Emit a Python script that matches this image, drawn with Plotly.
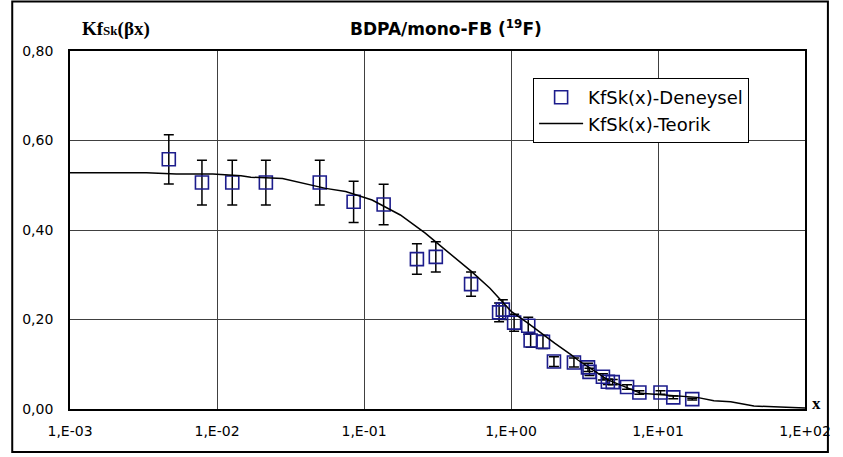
import plotly.graph_objects as go

exp_x = [0.0047, 0.0079, 0.0127, 0.0215, 0.050, 0.085, 0.136, 0.229, 0.308, 0.535,
         0.83, 0.88, 1.05, 1.31, 1.36, 1.65, 1.96, 2.68, 3.34, 3.42, 4.22, 4.56, 4.92,
         6.16, 7.47, 10.4, 12.7, 17.1]
exp_y = [0.558, 0.506, 0.506, 0.506, 0.506, 0.463, 0.457, 0.335, 0.340, 0.279,
         0.216, 0.222, 0.193, 0.186, 0.153, 0.150, 0.106, 0.104, 0.093, 0.083, 0.072,
         0.061, 0.060, 0.049, 0.037, 0.037, 0.026, 0.022]
exp_err = [0.055, 0.050, 0.050, 0.050, 0.050, 0.046, 0.045, 0.034, 0.034, 0.027,
           0.021, 0.022, 0.019, 0.019, 0.015, 0.015, 0.011, 0.010, 0.009, 0.008, 0.007,
           0.006, 0.006, 0.005, 0.004, 0.004, 0.003, 0.002]

# Theoretical curve
th_x = [0.001, 0.00164, 0.00331, 0.00528, 0.00936, 0.01456, 0.0170, 0.0279, 0.0548,
        0.075, 0.1135, 0.1767, 0.261, 0.3475, 0.540, 0.719, 1.008, 1.31, 1.98, 2.57,
        2.85, 4.56, 7.66, 18.4, 24.0, 31.2, 44.9, 61.4, 100]
th_y = [0.528, 0.528, 0.528, 0.525, 0.525, 0.521, 0.518, 0.515, 0.493, 0.486, 0.467,
        0.4335, 0.393, 0.359, 0.307, 0.270, 0.2175, 0.1915, 0.147, 0.121, 0.1095, 0.065,
        0.035, 0.026, 0.0186, 0.0164, 0.0067, 0.005, 0.002]

x_tickvals = [0.001, 0.01, 0.1, 1, 10, 100]
x_ticktext = ["1,E-03", "1,E-02", "1,E-01", "1,E+00", "1,E+01", "1,E+02"]
y_tickvals = [0.0, 0.2, 0.4, 0.6, 0.8]

FONT = "DejaVu Sans"

fig = go.Figure()
fig.add_trace(go.Scatter(
    x=exp_x, y=exp_y, mode="markers", name="KfSk(x)-Deneysel",
    legendgroup="a",
    marker=dict(symbol="square-open", size=13, color="#1c1c8c", line=dict(width=1.6, color="#1c1c8c")),
    error_y=dict(type="data", array=exp_err, visible=True, color="black", thickness=1.5, width=5),
))
fig.add_trace(go.Scatter(
    x=th_x, y=th_y, mode="lines", name="KfSk(x)-Teorik",
    legendgroup="b",
    line=dict(color="black", width=1.5),
))

L, T, W, H = 70, 51, 738, 358

def px(xp):
    return (xp - L) / W

def py(yp):
    return (T + H - yp) / H

fig.update_layout(
    width=843, height=457,
    margin=dict(l=L, r=843 - L - W, t=T, b=457 - T - H),
    paper_bgcolor="white", plot_bgcolor="white",
    separators=",.",
    showlegend=True,
    legend=dict(
        x=px(535), y=py(78), xanchor="left", yanchor="top",
        bgcolor="white", bordercolor="black", borderwidth=1,
        font=dict(family=FONT, size=18, color="black"),
        tracegroupgap=0, itemwidth=44, traceorder="grouped",
    ),
    xaxis=dict(
        type="log", range=[-3, 2],
        tickvals=x_tickvals, ticktext=x_ticktext,
        showgrid=True, gridcolor="#404040", gridwidth=1,
        showline=True, linecolor="black", linewidth=1.5, mirror=True,
        ticks="", ticklabelstandoff=8,
        tickfont=dict(family=FONT, size=14, color="black"),
        zeroline=False,
    ),
    yaxis=dict(
        range=[0, 0.8], tickvals=y_tickvals, tickformat=".2f",
        showgrid=True, gridcolor="#404040", gridwidth=1,
        showline=True, linecolor="black", linewidth=1.8, mirror=True,
        ticks="", ticklabelstandoff=12,
        tickfont=dict(family=FONT, size=14, color="black"),
        zeroline=False,
    ),
    shapes=[dict(
        type="rect", xref="paper", yref="paper",
        x0=px(12), x1=px(831), y0=py(452), y1=py(1.5),
        line=dict(color="black", width=2), fillcolor="rgba(0,0,0,0)", layer="above",
    )],
    annotations=[
        dict(text="<b>BDPA/mono-FB (<sup>19</sup>F)</b>", xref="paper", yref="paper",
             x=px(448), y=py(28), xanchor="center", yanchor="middle", showarrow=False,
             font=dict(family=FONT, size=17, color="black")),
        dict(text="<b>Kf<span style='font-size:13px'>Sk</span>(βx)</b>", xref="paper", yref="paper",
             x=px(116), y=py(29), xanchor="center", yanchor="middle", showarrow=False,
             font=dict(family="Liberation Serif", size=19, color="black")),
        dict(text="<b>x</b>", xref="paper", yref="paper",
             x=px(820), y=py(403), xanchor="center", yanchor="middle", showarrow=False,
             font=dict(family="Liberation Serif", size=17, color="black")),
    ],
)

fig.write_html("out.html")
